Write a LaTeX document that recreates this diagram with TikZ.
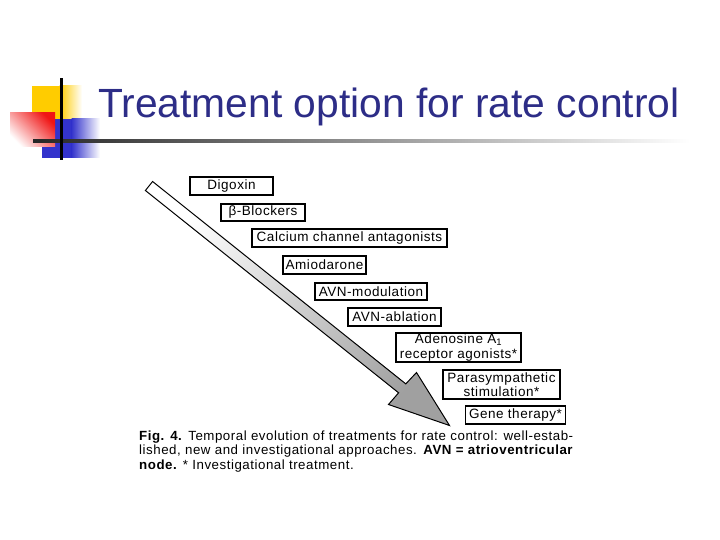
\documentclass[tikz,border=0pt]{standalone}
\usepackage{fontspec}
\setmainfont{Liberation Sans}
\newfontfamily\boxfont[LetterSpace=4]{Liberation Sans}
\newfontfamily\titlefont{Liberation Sans}
\usetikzlibrary{positioning}
\definecolor{titleblue}{RGB}{45,45,135}
\definecolor{sqyellow}{RGB}{255,204,0}
\definecolor{sqblue}{RGB}{51,51,204}
\definecolor{sqred}{RGB}{240,20,20}
\definecolor{arrowgray}{RGB}{160,160,160}
\tikzset{
  tbox/.style={draw=black, line width=1.1pt, fill=white, inner sep=1pt, align=center,
    font=\boxfont\fontsize{13.5}{14}\selectfont},
  capline/.style={anchor=base west, inner sep=0pt, font=\boxfont\fontsize{13.3}{14}\selectfont},
}
\begin{document}
\begin{tikzpicture}[x=1pt,y=-1pt]
\useasboundingbox (0,0) rectangle (720,540);
\fill[white] (0,0) rectangle (720,540);
% decoration squares
\fill[sqyellow] (32,86) rectangle (60,120);
\shade[left color=sqyellow, right color=white] (59.5,86) rectangle (82,120);
\fill[sqblue] (42,119) rectangle (72,158);
\shade[left color=sqblue, right color=white] (71.5,119) rectangle (100,158);
\shade[top color=sqred, bottom color=white, shading angle=-45] (10,113) rectangle (55,147);
\shade[left color=black!85, right color=white] (33,139.5) rectangle (690,142.5);
\fill[black] (60,78) rectangle (62.5,160);
% title
\node[anchor=base west, inner sep=0pt, text=titleblue, font=\titlefont\fontsize{40.8}{44}\selectfont] (title) at (98,118) {Treatment option for rate control};
% arrow
\coordinate (tailA) at (152.6,181.5);
\coordinate (tailB) at (145.4,190.5);
\coordinate (shA) at (405.8,383.9);
\coordinate (shB) at (398.6,392.8);
\coordinate (barbA) at (416.5,372.5);
\coordinate (barbB) at (388.5,404.5);
\coordinate (tip) at (449.5,425.5);
\shade[top color=white, bottom color=arrowgray, shading angle=51.4, draw=black, line width=1pt, line join=miter]
  (tailA) -- (shA) -- (barbA) -- (tip) -- (barbB) -- (shB) -- (tailB) -- cycle;
% boxes
\node[tbox, minimum width=83pt, minimum height=18pt] (dig) at (231.5,186) {Digoxin};
\node[tbox, minimum width=84pt, minimum height=17pt] (beta) at (263,212.5) {β-Blockers};
\node[tbox, minimum width=195pt, minimum height=18pt] (calc) at (349.5,238) {Calcium channel antagonists};
\node[tbox, minimum width=83pt, minimum height=18pt] (amio) at (324.5,265) {Amiodarone};
\node[tbox, minimum width=112pt, minimum height=17pt] (avnm) at (371,291.5) {AVN-modulation};
\node[tbox, minimum width=93pt, minimum height=18pt] (avna) at (394.5,317) {AVN-ablation};
\node[tbox, minimum width=125pt, minimum height=29pt, font=\boxfont\fontsize{13.5}{14.5}\selectfont] (aden) at (458.5,347.5) {Adenosine A\textsubscript{1}\\receptor agonists*};
\node[tbox, minimum width=117pt, minimum height=29pt, font=\boxfont\fontsize{13.5}{14.5}\selectfont] (para) at (501.5,384.5) {Parasympathetic\\stimulation*};
\node[tbox, minimum width=100pt, minimum height=18pt] (gene) at (515.5,415) {Gene therapy*};
% caption
\node[capline] (cap1) at (139,440) {\hbox to 434pt{\textbf{Fig. 4.} Temporal evolution of treatments for rate control: well-estab-}};
\node[capline] (cap2) at (139,454.5) {\hbox to 434pt{lished, new and investigational approaches. \textbf{AVN = atrioventricular}}};
\node[capline] (cap3) at (139,469) {\textbf{node.} * Investigational treatment.};
\end{tikzpicture}
\end{document}
